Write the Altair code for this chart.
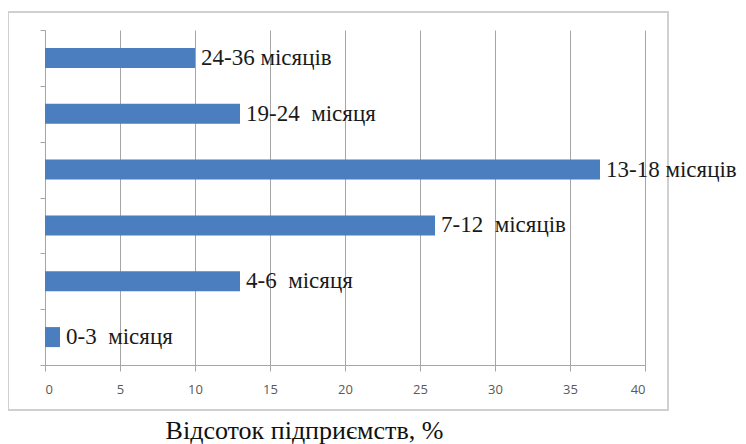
import altair as alt
import pandas as pd

categories = ["24-36", "19-24", "13-18", "7-12", "4-6", "0-3"]
values = [10, 13, 37, 26, 13, 1]
labels = ["24-36 місяців", "19-24 \u00a0місяця", "13-18 місяців", "7-12 \u00a0місяців", "4-6 \u00a0місяця", "0-3 \u00a0місяця"]
x_ticks = [0, 5, 10, 15, 20, 25, 30, 35, 40]

df = pd.DataFrame({"cat": categories, "val": values, "label": labels})

y_enc = alt.Y("cat:N", sort=categories, title=None,
              scale=alt.Scale(paddingInner=0, paddingOuter=0),
              axis=alt.Axis(labels=False, tickBand="extent", domainColor="#a6a6a6",
                            tickColor="#a6a6a6", tickSize=5, grid=False))
x_enc = alt.X("val:Q", scale=alt.Scale(domain=[0, 40]),
              title="Відсоток підприємств, %",
              axis=alt.Axis(values=x_ticks, grid=True, gridColor="#a6a6a6", gridWidth=1,
                            domainColor="#a6a6a6", tickColor="#a6a6a6", tickSize=6,
                            labelFont="Open Sans", labelFontSize=13, labelColor="#595959",
                            labelPadding=12,
                            titleFont="Liberation Serif", titleFontSize=26, titleFontWeight="normal",
                            titleColor="#111111", titleX=259, titleY=73, titleAlign="center",
                            titleBaseline="alphabetic"))

bars = alt.Chart(df).mark_bar(color="#4a7ebf", size=20).encode(x=x_enc, y=y_enc)
text = alt.Chart(df).mark_text(align="left", baseline="middle", dx=6, font="Liberation Serif",
                               fontSize=23, color="#1a1a1a").encode(x="val:Q", y=alt.Y("cat:N", sort=categories), text="label:N")
border = alt.Chart(df).mark_rect(fillOpacity=0, stroke="#d0d0d0", strokeWidth=1.5).encode(
    x=alt.value(-37), x2=alt.value(623), y=alt.value(-18), y2=alt.value(380))

chart = alt.layer(border, bars, text).properties(
    width=600, height=335,
    autosize=alt.AutoSizeParams(type="none"),
    padding={"left": 37, "top": 22, "right": 93, "bottom": 79},
).configure_view(stroke=None)

chart.save("out.html", embed_options={"renderer": "svg", "actions": False})
